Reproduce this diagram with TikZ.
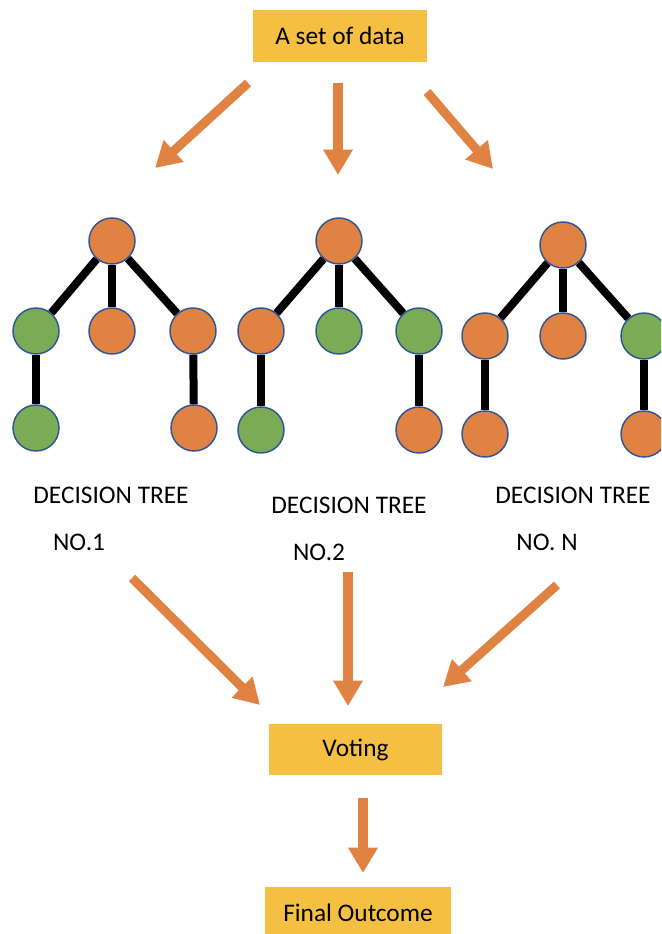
\documentclass[tikz,border=0pt]{standalone}
\usepackage{fontspec}
\setmainfont{Carlito}
\usetikzlibrary{arrows.meta}
\definecolor{boxgold}{RGB}{244,191,66}
\definecolor{leaforange}{RGB}{224,130,66}
\definecolor{leafgreen}{RGB}{122,172,85}
\definecolor{ringblue}{RGB}{47,85,151}
\tikzset{
  databox/.style={fill=boxgold, draw=none, minimum width=130pt, minimum height=38.5pt, font=\fontsize{19}{23}\selectfont},
  onode/.style={circle, fill=leaforange, draw=ringblue, line width=1.1pt, minimum size=34.5pt, inner sep=0pt},
  gnode/.style={onode, fill=leafgreen},
  branch/.style={line width=6pt, black},
  fatarrow/.style={draw=leaforange, line width=6.8pt, -{Triangle[length=19pt,width=21pt,fill=leaforange]}},
  treelabel/.style={font=\fontsize{19}{23}\selectfont, inner sep=0pt}
}
\begin{document}
\begin{tikzpicture}[x=0.75pt,y=-0.75pt]
\useasboundingbox (0,0) rectangle (661,934);
\clip (0,0) rectangle (661,934);
% boxes
\node[databox] (data) at (340,36) {A set of data};
\node[databox] (voting) at (355.5,749.5) {Voting};
\node[databox, minimum width=140pt] (final) at (358,912.5) {Final Outcome};
% arrows from the data
\coordinate (ta) at (248,83);
\coordinate (tb) at (338,83);
\coordinate (tc) at (427,92);
\coordinate (ha) at (155,168);
\coordinate (hb) at (338,175);
\coordinate (hc) at (493,169);
\draw[fatarrow] (ta) -- (ha);
\draw[fatarrow] (tb) -- (hb);
\draw[fatarrow] (tc) -- (hc);
% tree 1
\node[onode] (r1) at (112,241) {};
\node[gnode] (a1) at (36,331) {};
\node[onode] (b1) at (112,331) {};
\node[onode] (c1) at (193,331) {};
\node[gnode] (d1) at (36,428) {};
\node[onode] (e1) at (194,428) {};
% tree 2
\node[onode] (r2) at (339,241) {};
\node[onode] (a2) at (261,331) {};
\node[gnode] (b2) at (339,331) {};
\node[gnode] (c2) at (419,331) {};
\node[gnode] (d2) at (261,430) {};
\node[onode] (e2) at (419,430) {};
% tree 3
\node[onode] (r3) at (563,245) {};
\node[onode] (a3) at (485,336) {};
\node[onode] (b3) at (563,336) {};
\node[gnode] (c3) at (644,336) {};
\node[onode] (d3) at (485,434) {};
\node[onode] (e3) at (644,434) {};
% branches
\draw[branch] (r1) -- (a1);
\draw[branch] (r1) -- (b1);
\draw[branch] (r1) -- (c1);
\draw[branch] (a1) -- (d1);
\draw[branch] (c1) -- (e1);
\draw[branch] (r2) -- (a2);
\draw[branch] (r2) -- (b2);
\draw[branch] (r2) -- (c2);
\draw[branch] (a2) -- (d2);
\draw[branch] (c2) -- (e2);
\draw[branch] (r3) -- (a3);
\draw[branch] (r3) -- (b3);
\draw[branch] (r3) -- (c3);
\draw[branch] (a3) -- (d3);
\draw[branch] (c3) -- (e3);
% labels
\node[treelabel] (n1a) at (111,495) {DECISION TREE};
\node[treelabel] (n1b) at (79,542) {NO.1};
\node[treelabel] (n2a) at (349,505) {DECISION TREE};
\node[treelabel] (n2b) at (319,552) {NO.2};
\node[treelabel] (n3a) at (573,495) {DECISION TREE};
\node[treelabel] (n3b) at (547,542) {NO. N};
% arrows to the vote
\coordinate (sa) at (132,578);
\coordinate (sb) at (348,572);
\coordinate (sc) at (557,585);
\coordinate (va) at (260,705);
\coordinate (vb) at (348,706);
\coordinate (vc) at (443,687);
\draw[fatarrow] (sa) -- (va);
\draw[fatarrow] (sb) -- (vb);
\draw[fatarrow] (sc) -- (vc);
\coordinate (fs) at (363,798);
\coordinate (fe) at (363,873);
\draw[fatarrow] (fs) -- (fe);
\end{tikzpicture}
\end{document}
